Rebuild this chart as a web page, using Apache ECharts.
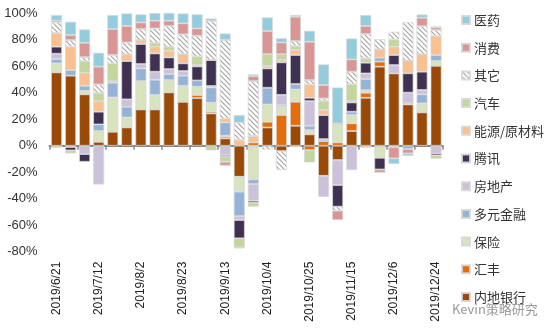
<!DOCTYPE html>
<html>
<head>
<meta charset="utf-8">
<script src="https://cdn.jsdelivr.net/npm/echarts@6/dist/echarts.min.js"></script>
<style>
html,body{margin:0;padding:0;background:#fff;}
#c{width:554px;height:334px;}
</style>
</head>
<body>
<div id="c"></div>
<script>
const categories = ['2019/6/21','2019/6/28','2019/7/5','2019/7/12','2019/7/19','2019/7/26','2019/8/2','2019/8/9','2019/8/16','2019/8/23','2019/8/30','2019/9/6','2019/9/13','2019/9/20','2019/9/27','2019/10/4','2019/10/11','2019/10/18','2019/10/25','2019/11/1','2019/11/8','2019/11/15','2019/11/22','2019/11/29','2019/12/6','2019/12/13','2019/12/20','2019/12/24'];
const yTicks = [-80,-60,-40,-20,0,20,40,60,80,100];

const bank       = [55.4,52.9,38.8,3.0,10.6,13.8,27.4,27.4,40.3,33.2,36.0,24.4,5.5,-23.4,0,13.8,-4.0,15.1,8.6,-22.7,-10.8,11.1,36.2,59.7,54.6,31.2,25.2,60.4];
const hsbc       = [0,-1.0,0,0,0,0,0,0,0,0,2.3,1.3,1.3,0,2.5,4.3,23.2,18.1,-3.3,3.5,2.5,5.8,3.8,3.8,0,0.8,0,0];
const insurance  = [6.8,0,2.7,8.1,25.9,7.6,21.4,10.9,9.3,12.1,6.3,6.8,0.8,-11.3,-25.4,13.1,6.3,9.3,3.2,0,14.3,6.3,2.0,-9.1,-1.2,0,6.8,3.5];
const divFin     = [3.2,4.2,3.8,5.0,11.1,8.0,9.6,11.5,4.5,7.6,4.7,11.5,10.0,-18.4,-3.5,12.6,1.3,4.1,3.3,1.5,0,2.5,8.3,3.0,0,-2.5,6.8,4.5];
const realEstate = [4.1,0,-6.3,-29.3,1.2,5.6,3.3,6.1,3.8,3.5,0,1.1,-7.0,-3.0,-12.6,0,7.6,-1.0,18.6,-15.9,-18.9,-18.4,4.3,0,6.3,8.1,3.3,-5.8];
const tencent    = [5.3,-2.5,-5.8,9.6,0,28.9,15.1,13.8,8.8,5.8,10.6,19.6,-1.3,-13.8,-1.5,14.6,24.6,21.9,2.5,18.1,-16.3,7.0,8.1,-8.8,7.6,14.6,13.8,-1.5];
const energy     = [10.3,17.7,9.8,8.0,0,5.1,3.0,5.1,5.0,7.0,1.0,0,3.0,4.5,4.8,1.8,1.8,3.7,10.1,3.8,0,1.0,-1.5,6.3,6.3,9.6,13.3,14.6];
const auto       = [-1.5,-2.3,8.8,6.1,13.4,0,0,3.0,3.1,0,6.6,-3.5,-3.8,-6.8,-3.0,9.0,4.3,3.1,-9.3,7.0,0,12.9,3.3,0,5.5,0,0,-2.5];
const other      = [8.0,5.0,3.0,6.5,6.3,9.0,8.3,10.8,15.6,14.9,15.6,29.7,59.2,12.9,41.5,-2.8,-14.3,3.7,3.3,1.8,-3.0,9.3,18.4,7.6,5.8,28.9,21.1,4.3];
const consumer   = [1.3,3.8,10.8,13.4,19.6,12.4,5.0,5.8,4.0,8.3,5.5,0,-3.0,-0.8,3.8,17.4,8.8,18.4,28.9,10.1,-7.1,9.3,6.0,-2.3,-8.3,-3.3,6.3,2.0];
const pharma     = [4.3,10.0,10.1,10.5,10.6,9.5,6.1,5.8,6.3,7.5,10.6,1.7,5.0,5.8,1.3,10.3,3.3,1.3,8.3,15.6,27.2,15.8,8.3,0,-4.3,-1.8,2.5,0.8];

const seriesNames = ['内地银行','汇丰','保险','多元金融','房地产','腾讯','能源/原材料','汽车','其它','消费','医药'];
const seriesData  = [bank,hsbc,insurance,divFin,realEstate,tencent,energy,auto,other,consumer,pharma];

// hatch pattern for 其它
const pc = document.createElement('canvas');
pc.width = 5; pc.height = 5;
const g = pc.getContext('2d');
g.fillStyle = '#ffffff'; g.fillRect(0,0,5,5);
g.strokeStyle = '#a6a6a6'; g.lineWidth = 1.2;
g.beginPath(); g.moveTo(-1,-1); g.lineTo(6,6); g.moveTo(-1,4); g.lineTo(1,6); g.moveTo(4,-1); g.lineTo(6,1); g.stroke();
const hatch = {image: pc, repeat: 'repeat'};

const colors = ['#9A4A06','#E46C0A','#D7E4BD','#95B3D7','#CCC1DA','#403152','#FAC090','#C3D69B',hatch,'#D99694','#93CDDD'];

const chart = echarts.init(document.getElementById('c'), null, {renderer:'canvas'});
chart.setOption({
  animation:false,
  backgroundColor:'#ffffff',
  grid:{left:49.5, top:13.3, width:393.6, height:238.4, containLabel:false},
  legend:{
    orient:'vertical', left:456, top:8,
    data:seriesNames.slice().reverse(),
    icon:'rect', itemWidth:8, itemHeight:8, itemGap:13.7,
    textStyle:{fontFamily:'Noto Sans CJK SC', fontSize:13, color:'#333', lineHeight:14, padding:[0,0,0,-1]}
  },
  xAxis:[{
    type:'category', data:categories, position:'bottom',
    axisLine:{show:false, onZero:false}, axisTick:{show:false},
    axisLabel:{interval:2, rotate:90, margin:10, fontFamily:'Liberation Sans, Arial', fontSize:12, color:'#222'}
  },{
    type:'category', data:categories, position:'bottom',
    axisLine:{show:true, onZero:true, lineStyle:{color:'#8c8c8c', width:2}},
    axisTick:{show:true, interval:1, length:4, lineStyle:{color:'#8c8c8c', width:1.5}},
    axisLabel:{show:false}
  }],
  yAxis:{
    type:'value', min:-80, max:100, interval:20,
    axisLine:{show:false}, axisTick:{show:false}, splitLine:{show:false},
    axisLabel:{formatter:'{value}%', margin:12, fontFamily:'Liberation Sans, Arial', fontSize:13, color:'#333'}
  },
  graphic:[{
    type:'text', left:452, top:303,
    style:{text:'Kevin策略研究', fontFamily:'Noto Sans CJK SC', fontSize:13, fill:'#9a9a9a'}
  }],
  series: seriesNames.map((n,i)=>({
    name:n, type:'bar', stack:'total', xAxisIndex:0, barWidth:11,
    data:seriesData[i],
    itemStyle:{color:colors[i], borderColor:'rgba(215,215,215,0.9)', borderWidth:0.8}
  }))
});
</script>
</body>
</html>
